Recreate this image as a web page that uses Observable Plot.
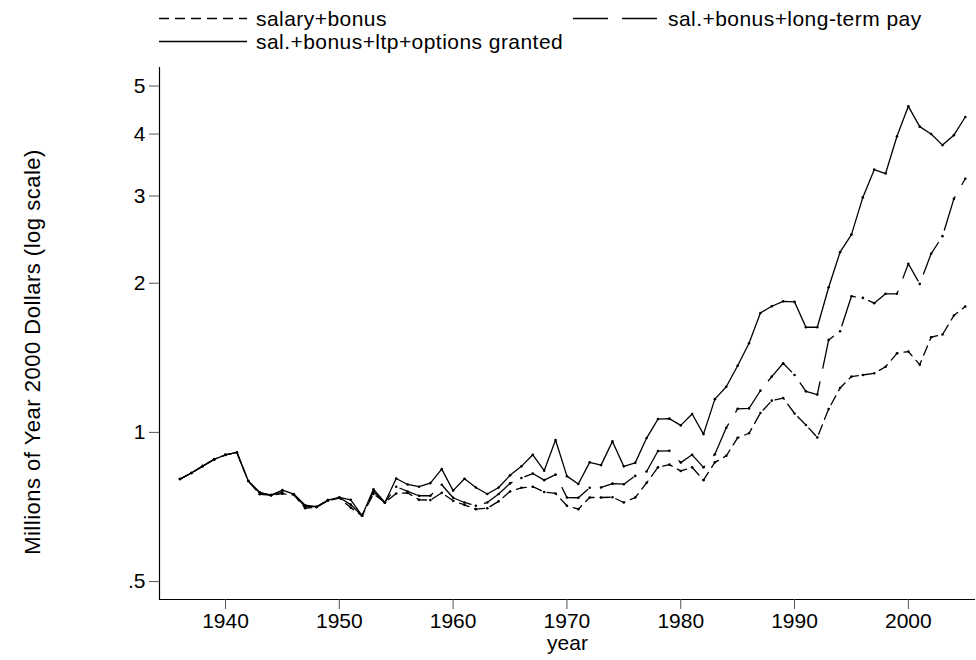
<!DOCTYPE html>
<html><head><meta charset="utf-8">
<script src="https://cdn.jsdelivr.net/npm/d3@7"></script>
<script src="https://cdn.jsdelivr.net/npm/@observablehq/plot@0.6"></script>
<style>
body{margin:0;background:#fff;font-family:"Liberation Sans",Arial,Helvetica,sans-serif;}
#wrap{position:relative;width:976px;height:660px;overflow:hidden;background:#fff;}
#legend{position:absolute;left:0;top:0;width:976px;height:60px;}
#chart{position:absolute;left:0;top:60px;}
.item{position:absolute;height:22px;display:flex;align-items:center;font-size:21px;letter-spacing:0.45px;color:#000;white-space:nowrap;}
.item svg{display:block;}
#ytitle{position:absolute;left:33px;top:352px;transform:translate(-50%,-50%) rotate(-90deg);font-size:22px;letter-spacing:0.5px;white-space:nowrap;color:#000;}
</style></head><body>
<div id="wrap"><div id="legend"></div><div id="chart"></div><div id="ytitle">Millions of Year 2000 Dollars (log scale)</div></div>
<script>
const years = [1936,1937,1938,1939,1940,1941,1942,1943,1944,1945,1946,1947,1948,1949,1950,1951,1952,1953,1954,1955,1956,1957,1958,1959,1960,1961,1962,1963,1964,1965,1966,1967,1968,1969,1970,1971,1972,1973,1974,1975,1976,1977,1978,1979,1980,1981,1982,1983,1984,1985,1986,1987,1988,1989,1990,1991,1992,1993,1994,1995,1996,1997,1998,1999,2000,2001,2002,2003,2004,2005];

const salaryBonus = [0.805,0.828,0.855,0.882,0.901,0.911,0.798,0.750,0.747,0.752,0.748,0.703,0.706,0.728,0.737,0.705,0.679,0.751,0.722,0.753,0.755,0.731,0.730,0.755,0.728,0.714,0.700,0.703,0.726,0.760,0.773,0.777,0.758,0.753,0.711,0.700,0.739,0.739,0.740,0.722,0.739,0.791,0.850,0.861,0.836,0.850,0.801,0.870,0.897,0.975,0.996,1.094,1.159,1.173,1.092,1.035,0.977,1.115,1.229,1.296,1.306,1.316,1.357,1.444,1.456,1.370,1.556,1.576,1.721,1.795];

const salBonusLtp = [0.805,0.828,0.855,0.882,0.901,0.911,0.798,0.755,0.747,0.758,0.750,0.708,0.708,0.730,0.739,0.715,0.679,0.760,0.722,0.777,0.760,0.745,0.745,0.784,0.738,0.722,0.711,0.722,0.751,0.789,0.809,0.826,0.801,0.822,0.739,0.738,0.773,0.774,0.788,0.786,0.817,0.834,0.917,0.918,0.869,0.901,0.850,0.903,1.022,1.116,1.118,1.214,1.296,1.379,1.306,1.210,1.192,1.537,1.600,1.883,1.868,1.823,1.904,1.904,2.189,1.994,2.293,2.489,2.960,3.250];

const salBonusLtpOptions = [0.805,0.828,0.855,0.882,0.901,0.911,0.798,0.757,0.747,0.765,0.751,0.713,0.708,0.730,0.739,0.731,0.679,0.768,0.722,0.807,0.785,0.777,0.790,0.843,0.763,0.806,0.774,0.751,0.774,0.819,0.854,0.901,0.837,0.965,0.816,0.787,0.870,0.859,0.959,0.854,0.868,0.974,1.064,1.066,1.033,1.089,0.992,1.167,1.236,1.363,1.513,1.742,1.797,1.839,1.834,1.630,1.630,1.963,2.311,2.507,2.980,3.390,3.330,3.960,4.550,4.140,4.000,3.800,3.980,4.330];

const seriesNames = ["salary+bonus","sal.+bonus+long-term pay","sal.+bonus+ltp+options granted"];
const seriesValues = [salaryBonus, salBonusLtp, salBonusLtpOptions];
const dashes = ["10,6","35,14",null];

const xTicks = [1940,1950,1960,1970,1980,1990,2000];
const yTicks = [0.5,1,2,3,4,5];
const yTickLabels = [".5","1","2","3","4","5"];
const xDomain = [1934.2, 2005.9];
const yDomain = [0.46, 5.45];

const rows = [];
seriesNames.forEach((name, s) => seriesValues[s].forEach((v, i) => rows.push({year: years[i], value: v, series: name})));

// legend
const legendPos = [{left:159, top:8, w:88, text:256},{left:573, top:8, w:85, text:668},{left:159, top:31, w:88, text:256}];
const legend = document.getElementById("legend");
seriesNames.forEach((name, s) => {
  const p = legendPos[s];
  const it = document.createElement("div");
  it.className = "item";
  it.style.left = p.left + "px";
  it.style.top = p.top + "px";
  it.innerHTML = `<svg width="${p.text - p.left}" height="22"><line x1="0" x2="${p.w}" y1="10.5" y2="10.5" stroke="#000" stroke-width="1.3" ${dashes[s] ? `stroke-dasharray="${dashes[s]}"` : ""}/></svg><span>${name}</span>`;
  legend.appendChild(it);
});

const marks = [
  Plot.ruleX([xDomain[0]], {stroke: "#000", strokeWidth: 1.2}),
  Plot.ruleY([yDomain[0]], {stroke: "#000", strokeWidth: 1.2}),
  Plot.axisX({ticks: xTicks, tickSize: 10, tickPadding: 4, tickFormat: d => String(d), stroke: "#555", label: "year", labelAnchor: "center", labelArrow: "none", labelOffset: 50, fontSize: 21}),
  Plot.axisY({ticks: yTicks, tickSize: 10, tickPadding: 4, tickFormat: d => yTickLabels[yTicks.indexOf(d)], stroke: "#555", label: null, fontSize: 21})
];
seriesNames.forEach((name, s) => {
  const opts = {x: "year", y: "value", stroke: "#000", strokeWidth: 1.3, filter: d => d.series === name};
  if (dashes[s]) opts.strokeDasharray = dashes[s];
  marks.push(Plot.line(rows, opts));
});
marks.push(Plot.dot(rows, {x: "year", y: "value", r: 1.3, fill: "#000", stroke: null}));

const chart = Plot.plot({
  width: 976, height: 600,
  marginLeft: 159, marginRight: 1, marginTop: 7, marginBottom: 61,
  style: {fontFamily: '"Liberation Sans", Arial, Helvetica, sans-serif', fontSize: "21px", color: "#000", background: "#fff", overflow: "visible"},
  x: {domain: xDomain},
  y: {type: "log", domain: yDomain},
  marks
});
document.getElementById("chart").appendChild(chart);
</script>
</body></html>
